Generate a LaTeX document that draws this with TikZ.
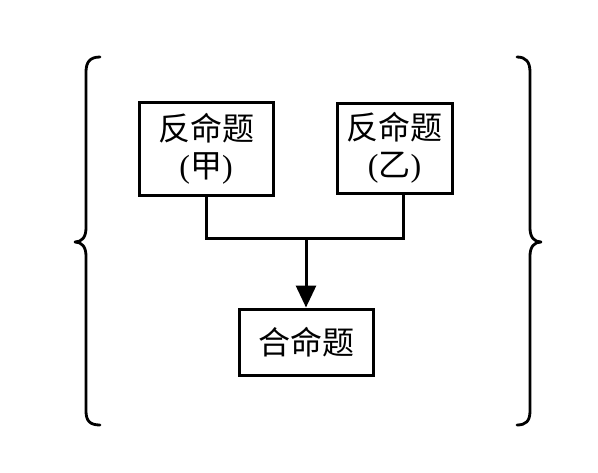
\documentclass[tikz,border=0pt]{standalone}
\usepackage{fontspec}
\setmainfont{Liberation Serif}
\newfontfamily\cjk{Noto Sans CJK SC}
\usetikzlibrary{arrows.meta,calc}
\begin{document}
\begin{tikzpicture}[x=1pt,y=-1pt,
  box/.style={draw,line width=3pt,inner sep=0pt,align=center,font=\fontsize{32}{37}\selectfont},
  link/.style={line width=3pt},
  brace/.style={line width=2.8pt,line cap=round,line join=round}]
\useasboundingbox (0,0) rectangle (598,472);
\node[box,minimum width=134pt,minimum height=93pt] (b1) at (206,148.5) {\cjk 反命题\\(\cjk 甲\rmfamily)};
\node[box,minimum width=115pt,minimum height=90pt] (b2) at (394.5,148) {\cjk 反命题\\(\cjk 乙\rmfamily)};
\node[box,minimum width=134pt,minimum height=66pt] (b3) at (306,342) {\cjk 合命题};
\coordinate (j) at (306,238);
\coordinate (c2) at ($(b2.south)+(9,0)$);
\draw[link] (b1.south) |- (j);
\draw[link] (c2) |- (j);
\draw[link,-{Triangle[length=22pt,width=20pt]}] (j) -- (b3.north);
% left brace
\draw[brace] (100,57) .. controls (90,57) and (86,62) .. (86,72)
  -- (86,228) .. controls (86,237) and (82,242) .. (75,242)
  .. controls (82,242) and (86,247) .. (86,256)
  -- (86,411) .. controls (86,421) and (90,425) .. (100,425);
% right brace
\draw[brace] (517,57) .. controls (526,57) and (530,62) .. (530,72)
  -- (530,228) .. controls (530,237) and (534,242) .. (541,242)
  .. controls (534,242) and (530,247) .. (530,256)
  -- (530,411) .. controls (530,421) and (526,425) .. (517,425);
\end{tikzpicture}
\end{document}
